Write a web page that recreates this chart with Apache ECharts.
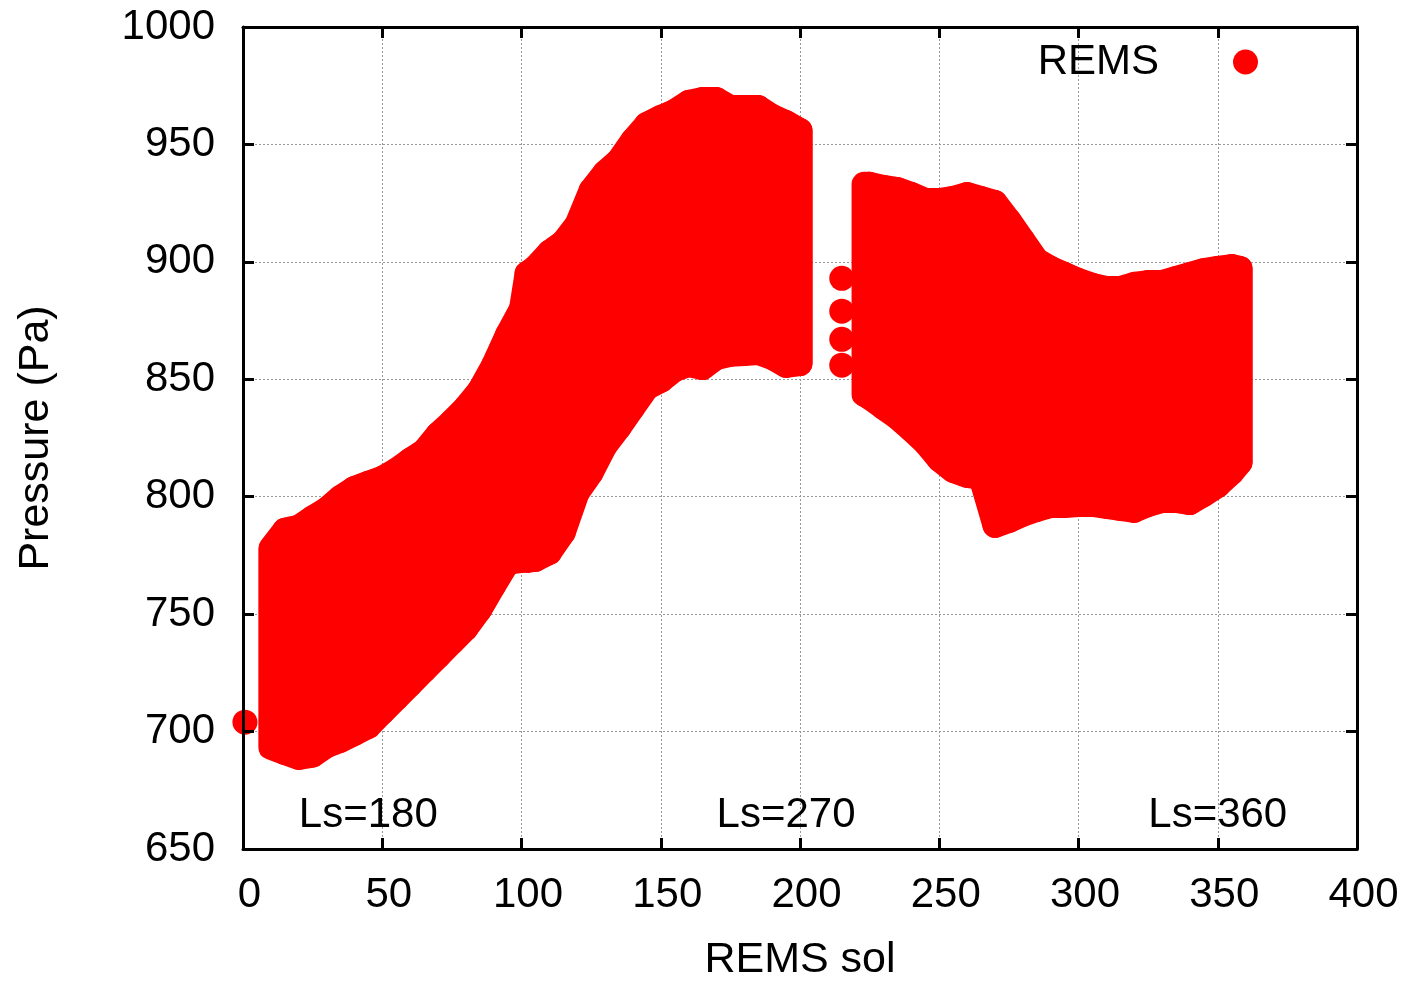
<!DOCTYPE html>
<html>
<head>
<meta charset="utf-8">
<script src="https://cdn.jsdelivr.net/npm/echarts@6/dist/echarts.min.js"></script>
<style>
html,body{margin:0;padding:0;background:#fff;}
#main{width:1407px;height:982px;}
</style>
</head>
<body>
<div id="main"></div>
<script>
// Daily pressure range per sol (lower and upper envelope of the REMS points)
const sols = [10,15,20,25,30,35,40,45,50,55,60,65,70,75,80,85,90,95,100,102,105,110,115,120,125,130,135,140,145,150,155,160,165,170,175,180,185,190,195,200,
              223,225,230,235,240,245,250,255,260,265,270,275,280,285,290,295,300,305,310,315,320,325,330,335,340,345,350,355,358];
const lowP = [693.3,691.1,689,690,694,696.3,699.2,702.2,708.2,714.1,720.1,726.1,732,738,743.9,752,762.2,772,772.9,772.9,773.3,776.3,784.8,801.8,810.3,821.8,829.5,838,846.5,849.5,854.2,856.3,855,859.3,860.6,861,861.4,859.3,855.9,856.7,
              843.6,842.3,838,833.8,828.6,823.1,815.9,811.2,809.1,808.2,787.8,789.9,792.5,794.6,796.3,796.3,796.7,796.7,795.9,795,794.2,796.7,798.4,798.4,797.5,801,804.8,810.3,814.6];
const highP = [778,785.7,787,791,794.6,799.7,803.5,805.7,807.8,811.2,815.5,819.3,826.5,832,838,845.3,856,869,880,895,897.6,904,908.3,916,930.4,938,943.2,951.7,958.5,961.5,964,967.9,969.1,969.1,965.7,965.7,965.7,961.9,959.3,955.9,
               933,933,931.7,930.8,928.7,926.1,926.1,927,928.7,927,925.3,917.6,909.1,900.6,897.2,894.6,892.1,890,888.7,888.7,890.4,891.2,891.2,892.9,894.6,896.3,897.2,898,897.2];
// Isolated points
const singleSols = [0.7,215,215,215,215];
const singleP = [704,893,879,867,856];
// Annotations
const lsText = ['Ls=180','Ls=270','Ls=360'];
const lsSol = [45,195,350];
const lsP = [664.5,664.5,664.5];
// Axis ticks
const xTicks = {min:0,max:400,interval:50};
const yTicks = {min:650,max:1000,interval:50};

const FONT = 'Liberation Sans';
const RED = '#ff0000';
const DOT = 25;

const rangeData = sols.map((s,i)=>[s, lowP[i], highP[i]]);
const singleData = singleSols.map((s,i)=>[s, singleP[i]]);
const lsData = lsSol.map((s,i)=>[s, lsP[i], lsText[i]]);

const gridLine = {show:true, lineStyle:{color:'#999', width:1, type:[2,2]}};
const frameLine = {show:true, onZero:false, lineStyle:{color:'#000', width:3}};
const tick = {show:true, inside:true, length:11, lineStyle:{color:'#000', width:3}};

const chart = echarts.init(document.getElementById('main'), null, {renderer:'canvas'});
chart.setOption({
  animation:false,
  color:[RED],
  grid:{left:243, right:50, top:27, bottom:133, containLabel:false, outerBoundsMode:'none'},
  legend:{
    data:[{name:'REMS', icon:'circle'}],
    align:'right',
    right:144, top:36,
    itemWidth:25, itemHeight:25,
    textStyle:{fontFamily:FONT, fontSize:42, color:'#000', padding:[0,69,0,0]},
    selectedMode:false
  },
  xAxis:[
    {type:'value', position:'bottom', min:xTicks.min, max:xTicks.max, interval:xTicks.interval, z:10,
     name:'REMS sol', nameLocation:'middle', nameGap:90,
     nameTextStyle:{fontFamily:FONT, fontSize:43, color:'#000'},
     axisLine:frameLine, axisTick:tick, splitLine:{show:false},
     axisLabel:{fontFamily:FONT, fontSize:42, color:'#000', margin:25, padding:[0,0,0,13],
                formatter:function(v){return String(v);}}},
    {type:'value', position:'top', min:xTicks.min, max:xTicks.max, interval:xTicks.interval, z:0,
     axisLine:frameLine, axisTick:tick, splitLine:gridLine, axisLabel:{show:false}}
  ],
  yAxis:[
    {type:'value', position:'left', min:yTicks.min, max:yTicks.max, interval:yTicks.interval, z:10,
     name:'Pressure (Pa)', nameLocation:'middle', nameGap:185, nameRotate:90,
     nameTextStyle:{fontFamily:FONT, fontSize:43, color:'#000'},
     axisLine:frameLine, axisTick:tick, splitLine:{show:false},
     axisLabel:{fontFamily:FONT, fontSize:42, color:'#000', margin:28,
                formatter:function(v){return String(v);}}},
    {type:'value', position:'right', min:yTicks.min, max:yTicks.max, interval:yTicks.interval, z:0,
     axisLine:frameLine, axisTick:tick, splitLine:gridLine, axisLabel:{show:false}}
  ],
  series:[
    {type:'scatter', name:'REMS', data:singleData, symbol:'circle', symbolSize:DOT,
     itemStyle:{color:RED, opacity:1}, silent:true, z:3},
    {type:'custom', name:'REMS', data:rangeData, silent:true, z:2,
     encode:{x:0, y:[1,2]},
     renderItem:function(params, api){
       const i = params.dataIndex;
       const s = api.value(0);
       const a1 = api.coord([s, api.value(1)]);
       const a2 = api.coord([s, api.value(2)]);
       if (i + 1 < sols.length && sols[i+1] - s <= 6) {
         const b1 = api.coord([sols[i+1], lowP[i+1]]);
         const b2 = api.coord([sols[i+1], highP[i+1]]);
         return {type:'polygon', shape:{points:[a2, b2, b1, a1]},
                 style:{fill:RED, stroke:RED, lineWidth:DOT, lineJoin:'round', lineCap:'round'}};
       }
       return {type:'line', shape:{x1:a1[0], y1:a1[1], x2:a2[0], y2:a2[1]},
               style:{stroke:RED, lineWidth:DOT, lineCap:'round'}};
     }},
    {type:'scatter', name:'Ls', data:lsData, symbolSize:0, silent:true, z:4,
     itemStyle:{opacity:1},
     label:{show:true, position:'inside', formatter:function(p){return p.value[2];},
            fontFamily:FONT, fontSize:42, color:'#000', opacity:1}}
  ]
});
</script>
</body>
</html>
